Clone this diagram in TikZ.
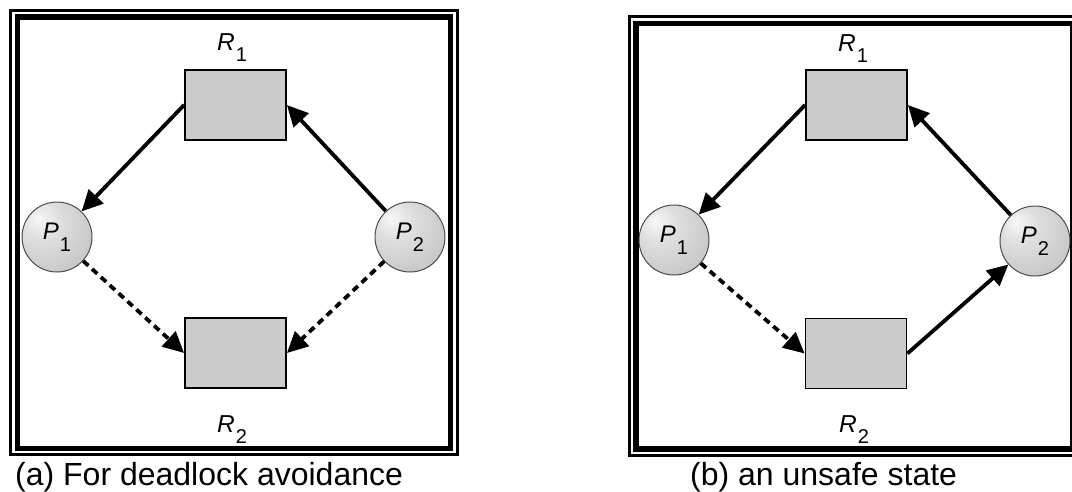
\documentclass[tikz,border=0pt]{standalone}
\usepackage{fontspec}
\setmainfont{Liberation Sans}
\usetikzlibrary{arrows.meta}
\pgfdeclareradialshading{sphereshade}{\pgfpoint{-14bp}{14bp}}{%
  color(0bp)=(gray!6);
  color(14bp)=(gray!26);
  color(35bp)=(gray!44);
  color(55bp)=(gray!62);
  color(70bp)=(gray!75)}
\newcommand\lbl[2]{{\itshape #1}\kern1pt\raisebox{-11.5pt}{\fontsize{20pt}{20pt}\selectfont #2}}
\begin{document}
\begin{tikzpicture}[x=1pt,y=-1pt,
  res/.style={rectangle,draw=black,line width=1.8pt,fill=gray!40,minimum width=101pt,minimum height=70pt,inner sep=0pt},
  proc/.style={circle,draw=black!70,line width=1pt,shading=sphereshade,minimum size=70pt,inner sep=0pt,font=\fontsize{24pt}{24pt}\selectfont},
  lab/.style={anchor=base,inner sep=0pt,font=\fontsize{24.5pt}{24pt}\selectfont},
  captxt/.style={anchor=base west,inner sep=0pt,font=\fontsize{32pt}{32pt}\selectfont},
  thinframe/.style={draw=black,line width=3pt},
  thickframe/.style={draw=black,line width=5.5pt},
  arr/.style={line width=3.8pt,-{Triangle[length=21pt,width=20pt]}},
  darr/.style={arr,dash pattern=on 7pt off 5pt}]
\useasboundingbox (0,0) rectangle (1072,491);
\fill[white] (0,0) rectangle (1072,491);
% frame (a)
\draw[thinframe] (10,10) rectangle (457,454.5);
\draw[thickframe] (17.5,17) rectangle (450.5,448.5);
% frame (b)
\draw[thinframe] (629,16.5) rectangle (1082,455.5);
\draw[thickframe] (636,23.5) rectangle (1072.8,449);
% (a)
\node[res] (aR1) at (235.5,105) {};
\node[res] (aR2) at (235.5,353) {};
\node[proc] (aP1) at (57,237) {\lbl{P}{1}};
\node[proc] (aP2) at (410,237) {\lbl{P}{2}};
\node[lab] (aR1l) at (232,50) {\lbl{R}{1}};
\node[lab] (aR2l) at (232,432) {\lbl{R}{2}};
\draw[arr] (aR1.west) -- (aP1);
\draw[arr] (aP2) -- (aR1.east);
\draw[darr] (aP1) -- (aR2.west);
\draw[darr] (aP2) -- (aR2.east);
% (b)
\node[res] (bR1) at (856.5,105) {};
\node[res] (bR2) at (856,353.5) {};
\node[proc] (bP1) at (674,240) {\lbl{P}{1}};
\node[proc] (bP2) at (1035,241) {\lbl{P}{2}};
\node[lab] (bR1l) at (853,51) {\lbl{R}{1}};
\node[lab] (bR2l) at (854,432) {\lbl{R}{2}};
\draw[arr] (bR1.west) -- (bP1);
\draw[arr] (bP2) -- (bR1.east);
\draw[darr] (bP1) -- (bR2.west);
\draw[arr] (bR2.east) -- (bP2);
% captions
\node[captxt] (capa) at (15,485) {(a) For deadlock avoidance};
\node[captxt] (capb) at (690,485) {(b) an unsafe state};
\end{tikzpicture}
\end{document}
